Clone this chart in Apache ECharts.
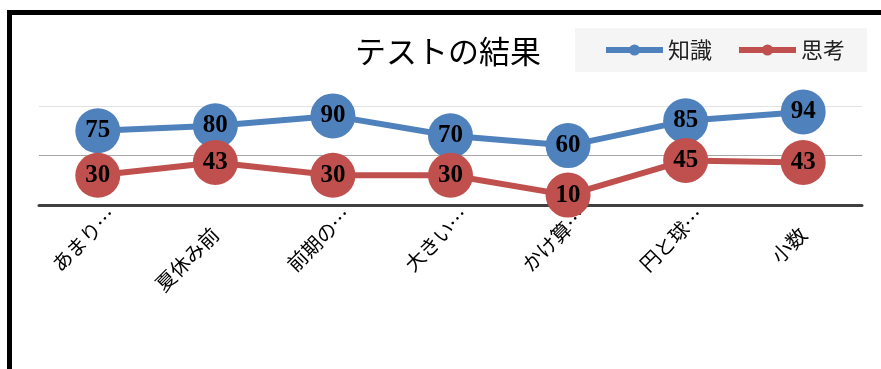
<!DOCTYPE html>
<html>
<head>
<meta charset="utf-8">
<script src="https://cdn.jsdelivr.net/npm/echarts@6/dist/echarts.min.js"></script>
<style>
html,body{margin:0;padding:0;background:#fff;}
#c{width:881px;height:369px;}
</style>
</head>
<body>
<div id="c"></div>
<script>
const titleText = 'テストの結果';
const categories = ['あまり…', '夏休み前', '前期の…', '大きい…', 'かけ算…', '円と球…', '小数'];
const seriesNames = ['知識', '思考'];
const knowledge = [75, 80, 90, 70, 60, 85, 94];
const thinking = [30, 43, 30, 30, 10, 45, 43];

const chart = echarts.init(document.getElementById('c'));
const labelFont = {fontSize: 20, fontFamily: 'Noto Sans CJK JP', color: '#000', verticalAlign: 'top'};
const catData = categories.map(c => ({
  value: c,
  textStyle: Object.assign({}, labelFont, c.endsWith('…') ? {padding: [10, 0, 0, 0]} : {padding: [14, 24, 0, 0]})
}));

function lineSeries(name, data, color) {
  return {
    name: name,
    type: 'line',
    data: data,
    symbol: 'circle',
    symbolSize: 45,
    lineStyle: {width: 6, color: color},
    itemStyle: {color: color},
    label: {
      show: true,
      position: 'inside',
      color: '#000',
      fontSize: 25,
      fontWeight: 'bold',
      fontFamily: 'Liberation Serif'
    },
    emphasis: {disabled: true},
    animation: false
  };
}

chart.setOption({
  animation: false,
  backgroundColor: '#fff',
  title: {
    text: titleText,
    left: 355,
    top: 36,
    padding: 0,
    textStyle: {fontSize: 31, fontWeight: 'normal', fontFamily: 'Noto Sans CJK JP', color: '#000'}
  },
  legend: {
    data: seriesNames,
    left: 575,
    top: 28,
    orient: 'horizontal',
    backgroundColor: '#f5f5f5',
    padding: [11, 22, 11, 28],
    itemWidth: 57,
    itemHeight: 14,
    itemGap: 24,
    lineStyle: {width: 6},
    textStyle: {fontSize: 22, fontFamily: 'Noto Sans CJK JP', color: '#222'}
  },
  grid: {left: 39, right: 19, top: 106, bottom: 164, containLabel: false, outerBoundsMode: 'none'},
  xAxis: {
    type: 'category',
    data: catData,
    boundaryGap: true,
    axisLine: {show: true, lineStyle: {color: '#404040', width: 3}},
    axisTick: {show: false},
    axisLabel: Object.assign({interval: 0, rotate: 45, margin: -8}, labelFont)
  },
  yAxis: {
    type: 'value',
    min: 0,
    max: 100,
    interval: 50,
    axisLine: {show: false},
    axisTick: {show: false},
    axisLabel: {show: false},
    splitLine: {show: true, lineStyle: {color: ['#404040', '#a6a6a6', '#e2e2e2'], width: 1}}
  },
  graphic: [{
    type: 'rect',
    shape: {x: 9.5, y: 12.5, width: 1000, height: 1000},
    style: {fill: 'none', stroke: '#000', lineWidth: 5},
    z: 100
  }],
  series: [
    lineSeries(seriesNames[0], knowledge, '#4f81bd'),
    lineSeries(seriesNames[1], thinking, '#c0504d')
  ]
});
</script>
</body>
</html>
